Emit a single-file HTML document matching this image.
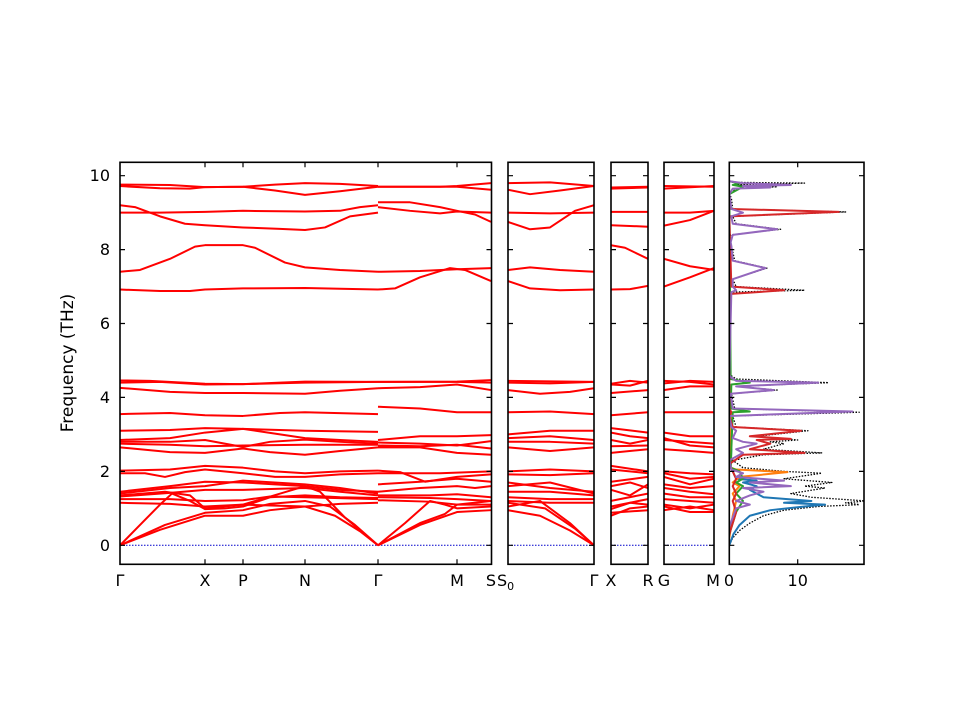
<!DOCTYPE html>
<html><head><meta charset="utf-8"><style>
html,body{margin:0;padding:0;background:#fff}
svg{display:block}
text{font-family:"DejaVu Sans","Liberation Sans",sans-serif;font-size:16px;fill:#000}
.b path{fill:none;stroke:#f00;stroke-width:2;vector-effect:non-scaling-stroke;stroke-linejoin:round}
.z{stroke:#00c;stroke-width:1;stroke-dasharray:1.5 1.5}
.fr{fill:none;stroke:#000;stroke-width:1.6}
.tk{stroke:#000;stroke-width:1.2}
.d path{fill:none;vector-effect:non-scaling-stroke;stroke-linejoin:round}
</style></head><body>
<svg width="960" height="720" viewBox="0 0 960 720" xmlns="http://www.w3.org/2000/svg">
<defs>
<clipPath id="c1"><rect x="120" y="162" width="372" height="402"/></clipPath>
<clipPath id="c2"><rect x="508" y="162" width="86" height="402"/></clipPath>
<clipPath id="c3"><rect x="611" y="162" width="37" height="402"/></clipPath>
<clipPath id="c4"><rect x="664" y="162" width="50" height="402"/></clipPath>
<clipPath id="c5"><rect x="729" y="162" width="135" height="402"/></clipPath>
</defs>

<line class="z" x1="120" y1="545.3" x2="491" y2="545.3"/>
<line class="z" x1="508" y1="545.3" x2="594" y2="545.3"/>
<line class="z" x1="611" y1="545.3" x2="648" y2="545.3"/>
<line class="z" x1="664" y1="545.3" x2="714" y2="545.3"/>

<g clip-path="url(#c1)"><g class="b" transform="translate(0,545.3) scale(1,-36.96)">
<path d="M120 9.76 L170 9.75 205 9.69 243 9.7 275 9.76 305 9.8 340 9.78 378 9.72"/>
<path d="M120 9.72 L160 9.66 190 9.65 205 9.69 243 9.7 275 9.6 305 9.48 340 9.58 378 9.7"/>
<path d="M120 9.2 L135 9.15 160 8.9 185 8.7 205 8.66 243 8.6 280 8.56 305 8.53 325 8.6 350 8.9 378 9.0"/>
<path d="M120 9.0 L160 9.0 205 9.02 243 9.05 305 9.03 340 9.05 360 9.15 378 9.2"/>
<path d="M120 7.4 L140 7.45 170 7.75 195 8.08 205 8.12 243 8.12 255 8.05 285 7.65 305 7.52 340 7.45 378 7.4"/>
<path d="M120 6.92 L160 6.88 190 6.88 205 6.92 243 6.95 305 6.96 340 6.94 378 6.92"/>
<path d="M120 4.46 L150 4.45 205 4.37 243 4.36 305 4.43 378 4.42"/>
<path d="M120 4.4 L160 4.42 205 4.35 243 4.36 305 4.4 378 4.42"/>
<path d="M120 4.26 L170 4.15 205 4.12 243 4.12 305 4.1 340 4.18 378 4.25"/>
<path d="M120 3.55 L170 3.58 205 3.52 243 3.5 280 3.58 305 3.6 378 3.55"/>
<path d="M120 3.1 L170 3.12 205 3.17 243 3.15 305 3.1 378 3.07"/>
<path d="M120 2.85 L170 2.9 205 3.05 243 3.15 280 3.0 305 2.9 340 2.85 378 2.8"/>
<path d="M120 2.8 L170 2.8 205 2.85 243 2.66 270 2.8 305 2.86 340 2.8 378 2.75"/>
<path d="M120 2.65 L170 2.52 205 2.5 243 2.62 270 2.52 305 2.45 340 2.55 378 2.65"/>
<path d="M120 2.75 L170 2.72 205 2.68 243 2.7 305 2.72 340 2.72 378 2.72"/>
<path d="M120 2.02 L170 2.05 205 2.15 243 2.1 275 2.0 305 1.95 340 2.0 378 2.02"/>
<path d="M120 1.95 L145 1.95 165 1.85 185 1.98 205 2.05 243 1.95 275 1.85 305 1.85 340 1.92 378 1.95"/>
<path d="M120 1.45 L170 1.6 205 1.72 243 1.7 275 1.65 305 1.6 340 1.5 378 1.45"/>
<path d="M120 1.4 L170 1.55 205 1.6 243 1.75 305 1.65 340 1.55 378 1.4"/>
<path d="M120 1.32 L170 1.42 205 1.5 243 1.5 305 1.55 340 1.45 378 1.35"/>
<path d="M120 1.25 L170 1.25 205 1.2 243 1.22 270 1.32 305 1.3 378 1.25"/>
<path d="M120 1.15 L170 1.12 205 1.05 243 1.1 305 1.05 340 1.12 378 1.15"/>
<path d="M120 0 L140 0.55 160 1.1 172 1.4 190 1.2 205 0.98 225 1.0 243 1.05 270 1.3 305 1.35 340 1.3 378 1.28"/>
<path d="M120 0 L160 0.42 205 0.8 243 0.8 270 0.95 305 1.05 335 0.8 360 0.38 378 0"/>
<path d="M120 0 L165 0.55 205 0.88 243 0.95 270 1.12 305 1.2 330 1.05 355 0.55 378 0"/>
<path d="M120 1.35 L165 1.45 190 1.35 205 1.0 243 1.1 305 1.6 320 1.45 345 0.75 378 0"/>
<path d="M378 9.7 L457 9.7 491 9.62"/>
<path d="M378 9.7 L440 9.7 457 9.72 491 9.8"/>
<path d="M378 9.28 L410 9.28 440 9.15 457 9.05 475 8.95 491 8.75"/>
<path d="M378 9.15 L410 9.05 440 8.98 457 9.03 491 9.0"/>
<path d="M378 7.4 L420 7.42 457 7.47 491 7.5"/>
<path d="M378 6.92 L395 6.95 420 7.25 450 7.5 465 7.45 491 7.15"/>
<path d="M378 4.42 L457 4.43 491 4.47"/>
<path d="M378 4.42 L457 4.42 491 4.4"/>
<path d="M378 4.25 L420 4.28 457 4.35 491 4.2"/>
<path d="M378 3.75 L420 3.7 457 3.6 491 3.6"/>
<path d="M378 2.85 L420 2.95 457 2.95 491 2.98"/>
<path d="M378 2.78 L420 2.75 457 2.7 491 2.82"/>
<path d="M378 2.65 L420 2.65 457 2.5 491 2.45"/>
<path d="M378 2.7 L420 2.68 457 2.72 491 2.62"/>
<path d="M378 1.95 L440 1.95 491 2.0"/>
<path d="M378 2.02 L400 1.98 425 1.72 457 1.85 491 1.92"/>
<path d="M378 1.65 L420 1.72 457 1.8 491 1.72"/>
<path d="M378 1.45 L420 1.55 457 1.6 475 1.55 491 1.6"/>
<path d="M378 1.35 L430 1.35 457 1.38 491 1.3"/>
<path d="M378 1.3 L430 1.28 457 1.25 491 1.2"/>
<path d="M378 1.22 L430 1.18 457 1.1 491 1.1"/>
<path d="M378 0 L405 0.6 430 1.2 445 1.1 457 1.0 491 1.05"/>
<path d="M378 0 L420 0.55 457 0.9 491 0.95"/>
<path d="M378 0 L420 0.6 445 0.85 457 1.1 491 1.2"/>
</g></g>

<g clip-path="url(#c2)"><g class="b" transform="translate(0,545.3) scale(1,-36.96)">
<path d="M508 9.8 L550 9.82 594 9.72"/>
<path d="M508 9.62 L530 9.5 560 9.6 594 9.72"/>
<path d="M508 9.0 L550 8.98 594 9.0"/>
<path d="M508 8.75 L530 8.55 550 8.6 575 9.05 594 9.2"/>
<path d="M508 7.45 L530 7.52 560 7.45 594 7.4"/>
<path d="M508 7.15 L530 6.95 560 6.9 594 6.92"/>
<path d="M508 4.45 L594 4.42"/>
<path d="M508 4.4 L550 4.38 594 4.42"/>
<path d="M508 4.2 L540 4.1 570 4.15 594 4.25"/>
<path d="M508 3.6 L550 3.62 594 3.55"/>
<path d="M508 3.0 L550 3.1 594 3.1"/>
<path d="M508 2.9 L550 2.95 594 2.85"/>
<path d="M508 2.8 L550 2.8 594 2.75"/>
<path d="M508 2.65 L550 2.55 594 2.65"/>
<path d="M508 2.0 L550 2.05 594 2.0"/>
<path d="M508 1.92 L550 1.9 594 1.95"/>
<path d="M508 1.7 L550 1.55 594 1.45"/>
<path d="M508 1.6 L550 1.7 594 1.4"/>
<path d="M508 1.45 L550 1.45 594 1.35"/>
<path d="M508 1.3 L550 1.25 594 1.25"/>
<path d="M508 1.2 L550 1.15 594 1.15"/>
<path d="M508 1.05 L540 1.2 570 0.6 594 0"/>
<path d="M508 0.95 L540 0.8 570 0.4 594 0"/>
<path d="M508 1.15 L545 1.0 575 0.45 594 0"/>
</g></g>

<g clip-path="url(#c3)"><g class="b" transform="translate(0,545.3) scale(1,-36.96)">
<path d="M611 9.68 L648 9.7"/><path d="M611 9.65 L648 9.68"/>
<path d="M611 9.02 L648 9.02"/>
<path d="M611 8.66 L648 8.62"/>
<path d="M611 8.12 L625 8.05 648 7.75"/>
<path d="M611 6.92 L630 6.93 648 7.02"/>
<path d="M611 4.37 L630 4.45 648 4.4"/>
<path d="M611 4.35 L630 4.32 648 4.45"/>
<path d="M611 4.12 L648 4.2"/>
<path d="M611 3.52 L648 3.6"/>
<path d="M611 3.17 L648 3.05"/>
<path d="M611 3.05 L630 2.95 648 2.9"/>
<path d="M611 2.85 L630 2.75 648 2.85"/>
<path d="M611 2.68 L648 2.7"/>
<path d="M611 2.5 L648 2.6"/>
<path d="M611 2.15 L648 2.0"/>
<path d="M611 2.05 L648 1.95"/>
<path d="M611 1.72 L648 1.85"/>
<path d="M611 1.6 L630 1.7 648 1.55"/>
<path d="M611 1.5 L630 1.35 648 1.65"/>
<path d="M611 1.2 L648 1.4"/>
<path d="M611 1.05 L648 1.25"/>
<path d="M611 0.98 L630 1.15 648 1.1"/>
<path d="M611 0.8 L630 1.0 648 1.05"/>
<path d="M611 0.88 L648 0.95"/>
</g></g>

<g clip-path="url(#c4)"><g class="b" transform="translate(0,545.3) scale(1,-36.96)">
<path d="M664 9.72 L714 9.7"/><path d="M664 9.65 L714 9.72"/>
<path d="M664 9.0 L690 9.0 714 9.05"/>
<path d="M664 8.65 L690 8.8 714 9.05"/>
<path d="M664 7.75 L690 7.55 714 7.45"/>
<path d="M664 7.0 L690 7.25 714 7.5"/>
<path d="M664 4.45 L690 4.42 714 4.35"/>
<path d="M664 4.38 L690 4.45 714 4.42"/>
<path d="M664 4.2 L690 4.3 714 4.3"/>
<path d="M664 3.6 L714 3.6"/>
<path d="M664 3.05 L690 2.95 714 2.95"/>
<path d="M664 2.9 L690 2.7 714 2.65"/>
<path d="M664 2.85 L714 2.75"/>
<path d="M664 2.6 L690 2.55 714 2.5"/>
<path d="M664 2.0 L690 1.95 714 1.92"/>
<path d="M664 1.95 L690 1.8 714 1.85"/>
<path d="M664 1.85 L690 1.65 714 1.8"/>
<path d="M664 1.65 L690 1.55 714 1.6"/>
<path d="M664 1.55 L690 1.45 714 1.38"/>
<path d="M664 1.4 L690 1.3 714 1.3"/>
<path d="M664 1.25 L690 1.2 714 1.15"/>
<path d="M664 1.1 L690 1.0 714 1.1"/>
<path d="M664 0.95 L690 1.05 714 0.95"/>
<path d="M664 1.05 L690 0.9 714 0.9"/>
</g></g>

<g clip-path="url(#c5)"><g class="d" transform="translate(729.3,545.3) scale(6.84,-36.96)">
<path stroke="#000" stroke-width="1.3" stroke-dasharray="1.5 1.5" d="M0 0 L0.5 0.2 1.5 0.4 3 0.6 5 0.8 8 0.95 13 1.05 19 1.1 17 1.15 20 1.2 12 1.3 9 1.4 14 1.55 11 1.6 15 1.7 8 1.8 13.5 1.95 8 2.0 2 2.1 0.5 2.3 5 2.45 13.5 2.5 5 2.6 8 2.75 6 2.8 10 2.85 4 2.95 11.5 3.1 1 3.2 0.5 3.5 19 3.6 0.8 3.7 0.3 4.1 7 4.2 1 4.3 14.5 4.4 1 4.5 0.2 4.6 0 5 0 6.5 0.3 6.85 11 6.9 1 7.0 0.5 7.2 5.5 7.5 0.8 7.7 0.3 8.1 0 8.2 0.2 8.4 7.5 8.55 1 8.7 0.5 8.9 17 9.02 0.5 9.1 0.3 9.4 0 9.5 1 9.65 7 9.7 1 9.75 11 9.8 0.5 9.82 0 9.85"/>
<path stroke="#1f77b4" stroke-width="2" d="M0 0 L0.6 0.3 1.5 0.55 3 0.8 6 0.95 11 1.05 14 1.1 8 1.15 12 1.2 5 1.3 3 1.5 4 1.6 2 1.7 4 1.75 1 1.8 0.5 2.0 0.2 2.1 0.3 2.6 0 2.7"/>
<path stroke="#ff7f0e" stroke-width="2" d="M0 0.2 L0.5 0.8 1 1.2 0.5 1.4 1.5 1.6 0.5 1.7 1.5 1.85 8.5 1.98 1 2.05 0.2 2.1 0.3 3.6 0 3.7"/>
<path stroke="#2ca02c" stroke-width="2" d="M0 0.3 L1 0.9 2 1.2 1 1.4 2 1.6 1 1.7 2 1.8 1.5 2.0 0.2 2.1 0.5 3.6 3 3.62 0.2 3.7 0.3 4.35 3 4.4 0.2 4.5 0 9.5 2 9.7 0.5 9.75 1.5 9.8 0 9.85"/>
<path stroke="#d62728" stroke-width="2" d="M0 0.3 L1 0.9 0.5 1.2 1 1.4 0.5 1.6 1 1.8 0.5 2.0 0 2.2 2 2.45 11 2.5 3 2.6 6 2.75 4 2.85 9 2.88 3 2.95 10.5 3.1 0.5 3.2 0 3.5 0.3 3.6 0 3.7 0 6.8 8 6.9 0.3 7.0 0 8.9 16 9.02 0.3 9.1 0 9.2"/>
<path stroke="#9467bd" stroke-width="2" d="M0 0.5 L1 1.0 3 1.1 1 1.2 3 1.35 5 1.45 2 1.55 9 1.6 3 1.7 8 1.75 1 1.85 2 1.95 0.3 2.05 0 2.3 2 2.5 1 2.6 4 2.75 2 2.8 0.5 2.9 1 3.1 0.3 3.2 0 3.5 18 3.62 0.5 3.7 0.2 4.1 6.5 4.2 1 4.3 13 4.4 1 4.45 0.2 4.55 0 4.6 0.3 6.85 1 6.9 0.5 7.0 0.5 7.2 5.3 7.5 0.5 7.7 0.3 8.1 0.2 8.2 0.5 8.4 7 8.55 0.5 8.7 0.3 8.9 2 9.0 0.3 9.1 0 9.5 0.5 9.65 6 9.68 2 9.72 9 9.75 2 9.8 0 9.85"/>
</g></g>

<rect class="fr" x="120" y="162.3" width="371.5" height="402"/>
<rect class="fr" x="508" y="162.3" width="86" height="402"/>
<rect class="fr" x="611" y="162.3" width="37" height="402"/>
<rect class="fr" x="664" y="162.3" width="50" height="402"/>
<rect class="fr" x="729.3" y="162.3" width="134.7" height="402"/>

<g class="tk">
<path d="M120 545.3h5M120 471.4h5M120 397.4h5M120 323.5h5M120 249.6h5M120 175.7h5
M491.5 545.3h-5M491.5 471.4h-5M491.5 397.4h-5M491.5 323.5h-5M491.5 249.6h-5M491.5 175.7h-5
M508 545.3h5M508 471.4h5M508 397.4h5M508 323.5h5M508 249.6h5M508 175.7h5
M594 545.3h-5M594 471.4h-5M594 397.4h-5M594 323.5h-5M594 249.6h-5M594 175.7h-5
M611 545.3h5M611 471.4h5M611 397.4h5M611 323.5h5M611 249.6h5M611 175.7h5
M648 545.3h-5M648 471.4h-5M648 397.4h-5M648 323.5h-5M648 249.6h-5M648 175.7h-5
M664 545.3h5M664 471.4h5M664 397.4h5M664 323.5h5M664 249.6h5M664 175.7h5
M714 545.3h-5M714 471.4h-5M714 397.4h-5M714 323.5h-5M714 249.6h-5M714 175.7h-5
M729.3 545.3h5M729.3 471.4h5M729.3 397.4h5M729.3 323.5h5M729.3 249.6h5M729.3 175.7h5
M864 545.3h-5M864 471.4h-5M864 397.4h-5M864 323.5h-5M864 249.6h-5M864 175.7h-5
M205 162.3v5M243 162.3v5M305 162.3v5M378 162.3v5M457 162.3v5
M205 564.3v-5M243 564.3v-5M305 564.3v-5M378 564.3v-5M457 564.3v-5
M797.7 162.3v5M797.7 564.3v-5"/>
</g>

<g text-anchor="end">
<text x="110" y="551">0</text><text x="110" y="477">2</text><text x="110" y="403">4</text>
<text x="110" y="329">6</text><text x="110" y="255">8</text><text x="110" y="181">10</text>
</g>
<text transform="translate(73,363) rotate(-90)" text-anchor="middle" style="font-size:17px">Frequency (THz)</text>

<g text-anchor="middle">
<text x="120" y="586">Γ</text><text x="205" y="586">X</text><text x="243" y="586">P</text>
<text x="305" y="586">N</text><text x="378" y="586">Γ</text><text x="457" y="586">M</text>
<text x="491" y="586">S</text>
<text x="594" y="586">Γ</text><text x="611" y="586">X</text><text x="648" y="586">R</text>
<text x="664" y="586">G</text><text x="713" y="586">M</text>
<text x="729" y="586">0</text><text x="797.7" y="586">10</text>
</g>
<text x="497" y="586">S<tspan style="font-size:11px" dy="4">0</tspan></text>
</svg>
</body></html>
